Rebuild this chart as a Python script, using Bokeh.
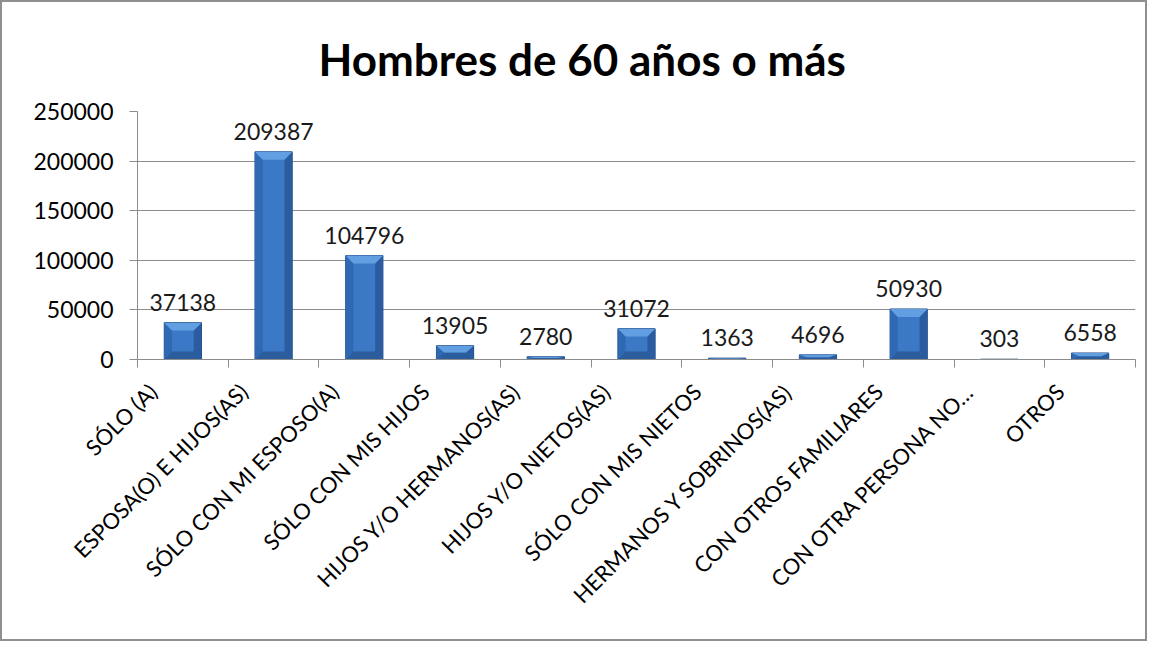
import numpy as np
from bokeh.plotting import figure
from bokeh.models import ColumnDataSource, FixedTicker, Range1d, LabelSet, NumeralTickFormatter
from bokeh.core.properties import value
from bokeh.embed import file_html
from bokeh.resources import INLINE

title = "Hombres de 60 años o más"
categories = ["SÓLO (A)", "ESPOSA(O) E HIJOS(AS)", "SÓLO CON MI ESPOSO(A)",
              "SÓLO CON MIS HIJOS", "HIJOS Y/O HERMANOS(AS)", "HIJOS Y/O NIETOS(AS)",
              "SÓLO CON MIS NIETOS", "HERMANOS Y SOBRINOS(AS)", "CON OTROS FAMILIARES",
              "CON OTRA PERSONA NO…", "OTROS"]
values = [37138, 209387, 104796, 13905, 2780, 31072, 1363, 4696, 50930, 303, 6558]
y_ticks = [0, 50000, 100000, 150000, 200000, 250000]

FONT = "Lato"
n = len(categories)
pos = np.arange(n) + 0.5
label_pos = pos - 0.33
vals = np.array(values, dtype=float)

# bevel geometry derived from the data
W = 0.41          # bar width (category units)
BX = 0.085        # bevel depth horizontally
BY = 8000.0       # bevel depth vertically (value units)
half = W / 2
by = np.minimum(BY, vals / 2)
xl, xr = pos - half, pos + half
top_xs, top_ys, bot_xs, bot_ys, l_xs, l_ys, r_xs, r_ys = [], [], [], [], [], [], [], []
for i in range(n):
    t, b = vals[i], by[i]
    a, c = xl[i], xr[i]
    top_xs.append([a, c, c - BX, a + BX]); top_ys.append([t, t, t - b, t - b])
    bot_xs.append([a, c, c - BX, a + BX]); bot_ys.append([0, 0, b, b])
    l_xs.append([a, a + BX, a + BX, a]); l_ys.append([0, b, t - b, t])
    r_xs.append([c, c - BX, c - BX, c]); r_ys.append([0, b, t - b, t])

src = ColumnDataSource(dict(x=pos, top=vals, lbl=[str(v) for v in values]))

p = figure(width=1147, height=641, output_backend="svg", toolbar_location=None,
           x_range=Range1d(0, n), y_range=Range1d(0, 250000),
           min_border_left=135, min_border_right=14, min_border_top=109,
           min_border_bottom=284)
p.styles = {"border": "2px solid #8f8f8f", "box-sizing": "border-box"}

p.title.text = title
p.title.align = "left"
p.title.offset = 181
p.title.text_font = FONT
p.title.text_font_size = "44px"
p.title.text_font_style = "bold"
p.title.text_color = "#000000"
p.title.standoff = 53

p.outline_line_color = None
p.background_fill_color = "white"
p.border_fill_color = "white"

# grid
p.xgrid.visible = False
p.ygrid.ticker = FixedTicker(ticks=y_ticks)
p.ygrid.grid_line_color = "#8c8c8c"
p.ygrid.grid_line_width = 1

# y axis
ya = p.yaxis[0]
ya.ticker = FixedTicker(ticks=y_ticks)
ya.formatter = NumeralTickFormatter(format="0")
ya.axis_line_color = "#8c8c8c"
ya.major_tick_line_color = "#8c8c8c"
ya.major_tick_out = 8
ya.major_tick_in = 0
ya.minor_tick_line_color = None
ya.major_label_text_font = FONT
ya.major_label_text_font_size = "23px"
ya.major_label_text_color = "#000000"
ya.major_label_standoff = 16

# x axis
xa = p.xaxis[0]
xa.ticker = FixedTicker(ticks=list(label_pos), minor_ticks=list(np.arange(n + 1)))
xa.major_label_overrides = {float(x): c for x, c in zip(label_pos, categories)}
xa.axis_line_color = "#8c8c8c"
xa.major_tick_line_color = None
xa.major_tick_out = 0
xa.minor_tick_line_color = "#8c8c8c"
xa.minor_tick_out = 8
xa.minor_tick_in = 0
xa.major_label_orientation = np.pi / 4
xa.major_label_text_font = FONT
xa.major_label_text_font_size = "22px"
xa.major_label_text_color = "#000000"
xa.major_label_standoff = 20

# bars: body + bevel facets
p.vbar(x="x", top="top", bottom=0, width=W, source=src, fill_color="#3b79c6",
       line_color="#1f4a85", line_width=1)
p.patches(xs=l_xs, ys=l_ys, fill_color="#3069b3", line_color=None)
p.patches(xs=r_xs, ys=r_ys, fill_color="#2a5c9f", line_color=None)
p.patches(xs=bot_xs, ys=bot_ys, fill_color="#2b5c9c", line_color=None)
p.patches(xs=top_xs, ys=top_ys, fill_color="#629fe2", line_color=None)

labels = LabelSet(x="x", y="top", text="lbl", source=src, text_align="center",
                  text_baseline="bottom", y_offset=12, text_font=value(FONT),
                  text_font_size="23px", text_color="#1a1a1a")
p.add_layout(labels)

open("out.html", "w").write(file_html(p, INLINE))
